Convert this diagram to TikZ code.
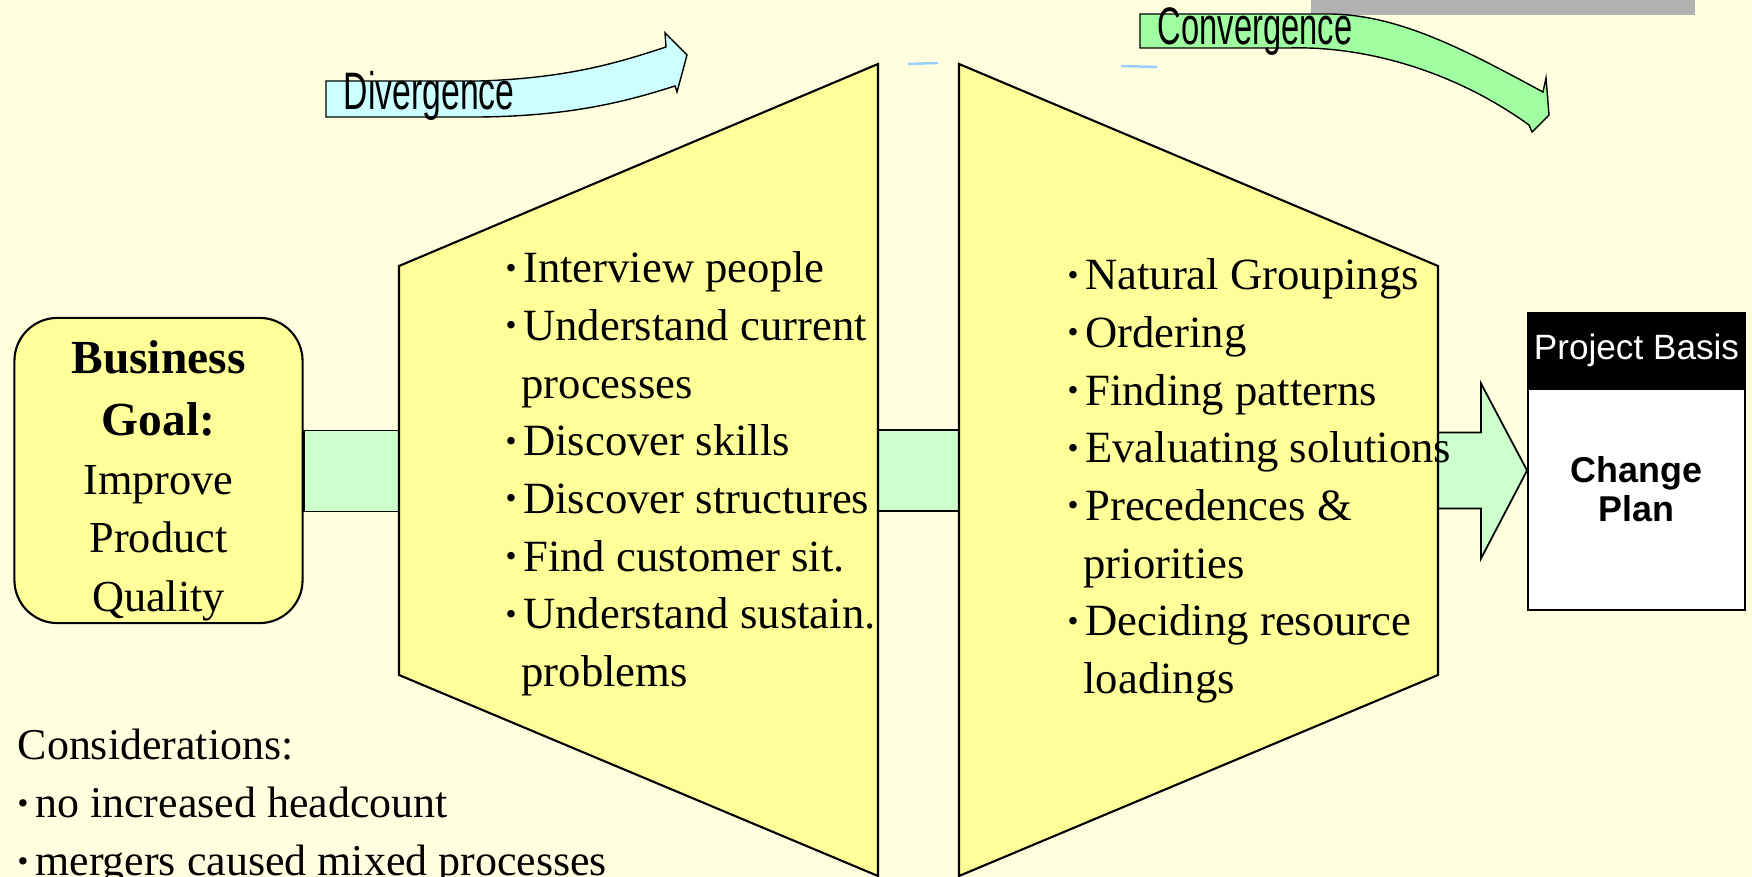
\documentclass[tikz,border=0pt]{standalone}
\usepackage{graphicx}
\usepackage{fontspec}
\setmainfont{Liberation Serif}
\setsansfont{Liberation Sans}
\usetikzlibrary{calc}
\definecolor{bgcream}{HTML}{FFFFE0}
\definecolor{padyellow}{HTML}{FFFF99}
\definecolor{bandgreen}{HTML}{CCFFCC}
\definecolor{divcyan}{HTML}{CCFFFF}
\definecolor{convgreen}{HTML}{A0FFA0}
\definecolor{bargray}{HTML}{B2B2B2}
\definecolor{glintblue}{HTML}{99CCFF}
\newcommand{\bul}{\makebox[5pt][l]{\raisebox{1.3pt}{\scalebox{0.7}{\textbullet}}}}
\newcommand{\listfont}{\fontsize{12.7}{16.4}\selectfont}
\begin{document}
\begin{tikzpicture}[x=0.01cm,y=-0.01cm,
pad/.style={draw=black,line width=0.6pt,fill=padyellow},
band/.style={draw=black,line width=0.5pt,fill=bandgreen},
txt/.style={inner sep=0pt,align=left,font=\listfont},
swoosh/.style={draw=black,line width=0.4pt},
swooshtxt/.style={inner sep=0pt,font=\sffamily\fontsize{15}{18}\selectfont}]
\useasboundingbox[fill=bgcream] (0,0) rectangle (1752,877);
\fill[bargray] (1311,0) rectangle (1695,15);
\draw[glintblue,line width=0.7pt] (908,64) -- (938,63);\draw[glintblue,line width=0.7pt] (1121,66) -- (1157,67);
\draw[swoosh,fill=divcyan] (326,81) -- (480,81) .. controls (570,78) and (620,62) .. (666,47) -- (665,33) -- (687,55) -- (677,92) -- (675,86) .. controls (625,102) and (570,116) .. (480,117) -- (326,117) -- cycle;
\node[swooshtxt,anchor=base west] (divtxt) at (343,110) {\scalebox{0.64}[1]{Divergence}};
\draw[swoosh,fill=convgreen] (1140,14) -- (1330,14) .. controls (1400,15) and (1465,50) .. (1543,92) -- (1546,78) -- (1549,115) -- (1532,132) -- (1529,125) .. controls (1450,68) and (1360,46) .. (1290,48) -- (1140,48) -- cycle;
\node[swooshtxt,anchor=base west] (convtxt) at (1157,45) {\scalebox{0.62}[1]{Convergence}};
\coordinate (dA) at (399,266);\coordinate (dB) at (878,64);\coordinate (dC) at (878,876);\coordinate (dD) at (399,675);
\coordinate (cA) at (959,64);\coordinate (cB) at (1438,266);\coordinate (cC) at (1438,675);\coordinate (cD) at (959,876);
\node[pad,rounded corners=0.43cm,minimum width=2.88cm,minimum height=3.05cm] (goal) at (158.5,470.5) {};
\node[draw=black,line width=0.5pt,fill=black,text=white,minimum width=2.17cm,minimum height=0.74cm,inner sep=0pt,font=\sffamily\fontsize{10}{12}\selectfont] (basis) at (1636.5,350) {Project Basis};
\node[draw=black,line width=0.5pt,fill=white,minimum width=2.17cm,minimum height=2.21cm,anchor=north] (plan) at (basis.south) {};
\node[inner sep=0pt,align=center,font=\sffamily\bfseries\fontsize{10.2}{11}\selectfont] (plantxt) at ($(plan.center)+(0,-10)$) {Change\\Plan};
\coordinate (cm) at ($(cB)!.5!(cC)$);
\draw[band] ($(goal.east)+(0,-40)$) rectangle ($(dA)!.5!(dD)+(0,41)$);
\draw[band] ($(dB)!.5!(dC)+(0,-40)$) rectangle ($(cA)!.5!(cD)+(0,41)$);
\draw[band] ($(cm)+(0,-38)$) -- ($(cm)+(43,-38)$) -- ($(cm)+(43,-87)$) -- (plan.west |- cm) -- ($(cm)+(43,88)$) -- ($(cm)+(43,38)$) -- ($(cm)+(0,38)$) -- cycle;
\draw[pad] (dA) -- (dB) -- (dC) -- (dD) -- cycle;\draw[pad] (cA) -- (cB) -- (cC) -- (cD) -- cycle;
\node[txt,align=center,anchor=north,font=\fontsize{12.6}{16.6}\selectfont] (goaltxt) at (158.5,340) {{\bfseries\fontsize{13.5}{16.6}\selectfont Business}\\[1pt]{\bfseries\fontsize{13.5}{16.6}\selectfont Goal:}\\[0.2pt]Improve\\Product\\Quality};
\node[txt,anchor=north west] (divlist) at (505,251) {\bul Interview people\\\bul Understand current\\\hspace*{4.5pt}processes\\\bul Discover skills\\\bul Discover structures\\\bul Find customer sit.\\\bul Understand sustain.\\\hspace*{4.5pt}problems};
\node[txt,anchor=north west] (convlist) at (1067,258) {\bul Natural Groupings\\\bul Ordering\\\bul Finding patterns\\\bul Evaluating solutions\\\bul Precedences \&\\\hspace*{4.5pt}priorities\\\bul Deciding resource\\\hspace*{4.5pt}loadings};
\node[txt,anchor=north west,font=\fontsize{12.5}{16.6}\selectfont] (consid) at (17,728) {Considerations:\\\bul no increased headcount\\\bul mergers caused mixed processes};
\end{tikzpicture}
\end{document}
